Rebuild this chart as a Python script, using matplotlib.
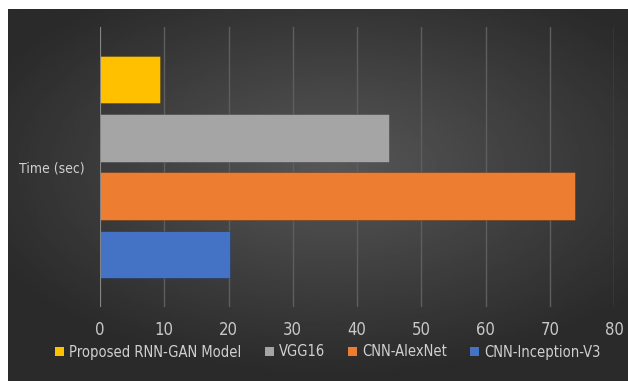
import numpy as np
import matplotlib.pyplot as plt
from matplotlib.patches import Patch

plt.rcParams['font.family'] = ['DejaVu Sans']
plt.rcParams['font.stretch'] = 'condensed'

category = 'Time (sec)'
models = ['Proposed RNN-GAN Model', 'VGG16', 'CNN-AlexNet', 'CNN-Inception-V3']
times = [9.4, 45.0, 73.9, 20.3]
colors = ['#FFC000', '#A5A5A5', '#ED7D31', '#4472C4']
xticks = [0, 10, 20, 30, 40, 50, 60, 70, 80]

W, H = 628, 381
fig = plt.figure(figsize=(W / 100, H / 100), dpi=100)
fig.patch.set_facecolor('white')

# dark radial gradient background
bg = fig.add_axes([8 / W, 0, 1 - 8 / W, (H - 9) / H])
yy, xx = np.mgrid[-1:1:200j, -1:1:300j]
r = np.sqrt(((xx - 0.05) / 1.2) ** 2 + ((yy + 0.15) / 1.1) ** 2)
shade = np.clip(0.34 - 0.17 * r, 0.165, 0.34)
bg.imshow(shade, cmap='gray', vmin=0, vmax=1, aspect='auto', extent=[0, 1, 0, 1])
bg.axis('off')

ax = fig.add_axes([100 / W, 1 - 307 / H, (614 - 100) / W, 280 / H])
ax.patch.set_alpha(0)
ypos = np.arange(len(models))[::-1]
for y, t, c in zip(ypos, times, colors):
    ax.barh(y, t, height=0.82, color=c, edgecolor='#00000040', linewidth=0.6, zorder=3)

ax.set_xlim(0, 80)
ax.set_ylim(-0.9, 3.9)
ax.set_xticks(xticks)
ax.set_xticklabels([str(v) for v in xticks], color='#c8c8c8', fontsize=12)
ax.set_yticks([1.5])
ax.set_yticklabels([category], color='#d0d0d0', fontsize=10)
ax.tick_params(axis='both', length=0)
ax.tick_params(axis='x', pad=10)
ax.tick_params(axis='y', pad=11)
ax.grid(axis='x', color='#5e5e5e', linewidth=1, zorder=0)
ax.axvline(0, color='#8a8a8a', linewidth=1.3, zorder=4)
for s in ax.spines.values():
    s.set_visible(False)

handles = [Patch(facecolor=c, edgecolor='none') for c in colors]
fig.legend(handles, models, loc='center', bbox_to_anchor=(328 / W, 1 - 352 / H),
           ncol=4, frameon=False, fontsize=10.5, labelcolor='#d0d0d0',
           handlelength=0.6, handleheight=0.6, handletextpad=0.35, columnspacing=1.6)

fig.savefig('out.png', dpi=100)
